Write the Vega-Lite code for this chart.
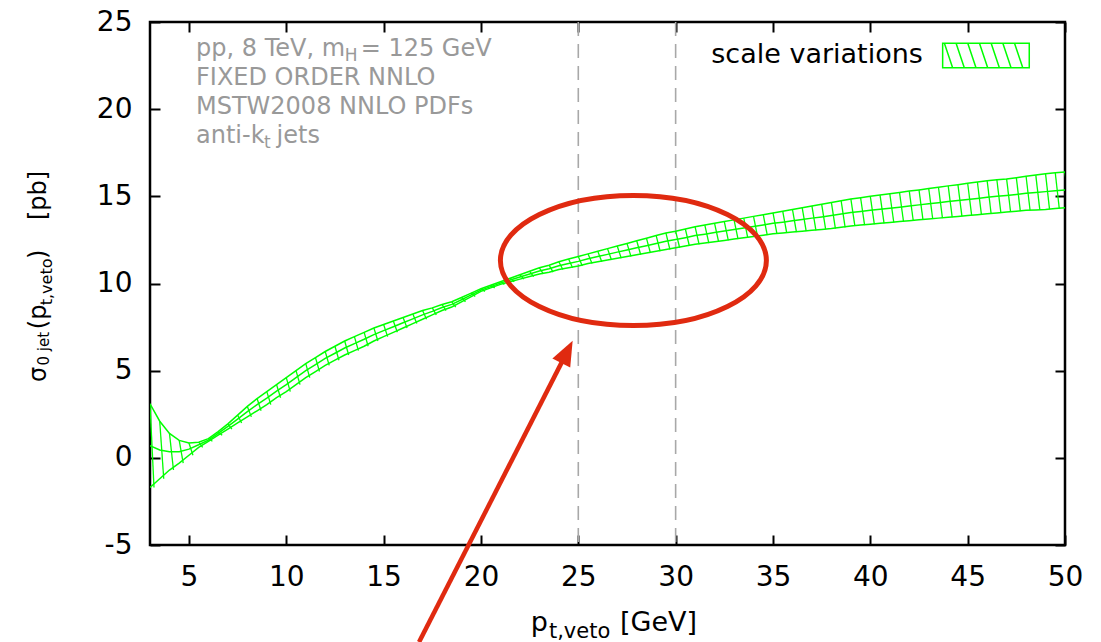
{
  "$schema": "https://vega.github.io/schema/vega-lite/v6.json",
  "width": 915,
  "height": 523,
  "autosize": {"type": "none"},
  "padding": {"left": 150, "top": 22, "right": 36, "bottom": 97},
  "background": "white",
  "config": {
    "view": {"stroke": "black", "strokeWidth": 2.5},
    "text": {"font": "DejaVu Sans"}
  },
  "data": {"values": [{"one": 1}]},
  "datasets": {
    "vlines": [{"x": 25}, {"x": 30}],
    "band": [
      {"x": 3.0, "hi": 3.1, "mid": 0.7, "lo": -1.7},
      {"x": 3.5, "hi": 2.1, "mid": 0.45, "lo": -1.2},
      {"x": 4.0, "hi": 1.4, "mid": 0.35, "lo": -0.7},
      {"x": 4.5, "hi": 1.0, "mid": 0.35, "lo": -0.3},
      {"x": 5.0, "hi": 0.85, "mid": 0.5, "lo": 0.15},
      {"x": 5.5, "hi": 0.9, "mid": 0.75, "lo": 0.6},
      {"x": 6.0, "hi": 1.1, "mid": 1.02, "lo": 0.95},
      {"x": 6.5, "hi": 1.5, "mid": 1.4, "lo": 1.3},
      {"x": 7.0, "hi": 1.95, "mid": 1.8, "lo": 1.65},
      {"x": 7.5, "hi": 2.45, "mid": 2.22, "lo": 2.0},
      {"x": 8.0, "hi": 2.95, "mid": 2.65, "lo": 2.35},
      {"x": 8.5, "hi": 3.4, "mid": 3.05, "lo": 2.7},
      {"x": 9.0, "hi": 3.8, "mid": 3.42, "lo": 3.05},
      {"x": 9.5, "hi": 4.2, "mid": 3.82, "lo": 3.45},
      {"x": 10.0, "hi": 4.6, "mid": 4.2, "lo": 3.8},
      {"x": 10.5, "hi": 5.0, "mid": 4.6, "lo": 4.2},
      {"x": 11.0, "hi": 5.4, "mid": 5.0, "lo": 4.6},
      {"x": 11.5, "hi": 5.75, "mid": 5.35, "lo": 4.95},
      {"x": 12.0, "hi": 6.1, "mid": 5.7, "lo": 5.3},
      {"x": 12.5, "hi": 6.4, "mid": 6.0, "lo": 5.6},
      {"x": 13.0, "hi": 6.7, "mid": 6.3, "lo": 5.9},
      {"x": 13.5, "hi": 6.95, "mid": 6.55, "lo": 6.15},
      {"x": 14.0, "hi": 7.2, "mid": 6.8, "lo": 6.4},
      {"x": 14.5, "hi": 7.45, "mid": 7.07, "lo": 6.7},
      {"x": 15.0, "hi": 7.65, "mid": 7.3, "lo": 6.95},
      {"x": 15.5, "hi": 7.85, "mid": 7.52, "lo": 7.2},
      {"x": 16.0, "hi": 8.05, "mid": 7.75, "lo": 7.45},
      {"x": 16.5, "hi": 8.25, "mid": 7.97, "lo": 7.7},
      {"x": 17.0, "hi": 8.45, "mid": 8.2, "lo": 7.95},
      {"x": 17.5, "hi": 8.6, "mid": 8.4, "lo": 8.2},
      {"x": 18.0, "hi": 8.8, "mid": 8.62, "lo": 8.45},
      {"x": 18.5, "hi": 8.95, "mid": 8.8, "lo": 8.65},
      {"x": 19.0, "hi": 9.2, "mid": 9.07, "lo": 8.95},
      {"x": 19.5, "hi": 9.45, "mid": 9.35, "lo": 9.25},
      {"x": 20.0, "hi": 9.7, "mid": 9.62, "lo": 9.55},
      {"x": 20.5, "hi": 9.9, "mid": 9.82, "lo": 9.75},
      {"x": 21.0, "hi": 10.1, "mid": 10.02, "lo": 9.95},
      {"x": 21.5, "hi": 10.3, "mid": 10.2, "lo": 10.1},
      {"x": 22.0, "hi": 10.5, "mid": 10.37, "lo": 10.25},
      {"x": 22.5, "hi": 10.7, "mid": 10.55, "lo": 10.4},
      {"x": 23.0, "hi": 10.9, "mid": 10.72, "lo": 10.55},
      {"x": 23.5, "hi": 11.05, "mid": 10.85, "lo": 10.65},
      {"x": 24.0, "hi": 11.25, "mid": 11.02, "lo": 10.8},
      {"x": 24.5, "hi": 11.4, "mid": 11.15, "lo": 10.9},
      {"x": 25.0, "hi": 11.55, "mid": 11.27, "lo": 11.0},
      {"x": 25.5, "hi": 11.7, "mid": 11.42, "lo": 11.15},
      {"x": 26.0, "hi": 11.85, "mid": 11.55, "lo": 11.25},
      {"x": 26.5, "hi": 12.0, "mid": 11.67, "lo": 11.35},
      {"x": 27.0, "hi": 12.15, "mid": 11.8, "lo": 11.45},
      {"x": 27.5, "hi": 12.3, "mid": 11.92, "lo": 11.55},
      {"x": 28.0, "hi": 12.45, "mid": 12.05, "lo": 11.65},
      {"x": 28.5, "hi": 12.6, "mid": 12.17, "lo": 11.75},
      {"x": 29.0, "hi": 12.75, "mid": 12.3, "lo": 11.85},
      {"x": 29.5, "hi": 12.9, "mid": 12.42, "lo": 11.95},
      {"x": 30.0, "hi": 13.0, "mid": 12.52, "lo": 12.05},
      {"x": 30.5, "hi": 13.12, "mid": 12.63, "lo": 12.15},
      {"x": 31.0, "hi": 13.25, "mid": 12.75, "lo": 12.25},
      {"x": 31.5, "hi": 13.35, "mid": 12.83, "lo": 12.32},
      {"x": 32.0, "hi": 13.45, "mid": 12.92, "lo": 12.4},
      {"x": 32.5, "hi": 13.55, "mid": 13.01, "lo": 12.47},
      {"x": 33.0, "hi": 13.65, "mid": 13.1, "lo": 12.55},
      {"x": 33.5, "hi": 13.75, "mid": 13.18, "lo": 12.62},
      {"x": 34.0, "hi": 13.85, "mid": 13.27, "lo": 12.7},
      {"x": 34.5, "hi": 13.95, "mid": 13.36, "lo": 12.77},
      {"x": 35.0, "hi": 14.05, "mid": 13.45, "lo": 12.85},
      {"x": 35.5, "hi": 14.15, "mid": 13.52, "lo": 12.9},
      {"x": 36.0, "hi": 14.25, "mid": 13.6, "lo": 12.95},
      {"x": 36.5, "hi": 14.35, "mid": 13.67, "lo": 13.0},
      {"x": 37.0, "hi": 14.45, "mid": 13.75, "lo": 13.05},
      {"x": 37.5, "hi": 14.55, "mid": 13.82, "lo": 13.1},
      {"x": 38.0, "hi": 14.65, "mid": 13.9, "lo": 13.15},
      {"x": 38.5, "hi": 14.75, "mid": 13.98, "lo": 13.22},
      {"x": 39.0, "hi": 14.85, "mid": 14.07, "lo": 13.3},
      {"x": 39.5, "hi": 14.92, "mid": 14.13, "lo": 13.35},
      {"x": 40.0, "hi": 15.0, "mid": 14.2, "lo": 13.4},
      {"x": 40.5, "hi": 15.07, "mid": 14.26, "lo": 13.45},
      {"x": 41.0, "hi": 15.15, "mid": 14.32, "lo": 13.5},
      {"x": 41.5, "hi": 15.22, "mid": 14.38, "lo": 13.55},
      {"x": 42.0, "hi": 15.3, "mid": 14.45, "lo": 13.6},
      {"x": 42.5, "hi": 15.37, "mid": 14.51, "lo": 13.65},
      {"x": 43.0, "hi": 15.45, "mid": 14.57, "lo": 13.7},
      {"x": 43.5, "hi": 15.52, "mid": 14.63, "lo": 13.75},
      {"x": 44.0, "hi": 15.6, "mid": 14.7, "lo": 13.8},
      {"x": 44.5, "hi": 15.67, "mid": 14.76, "lo": 13.85},
      {"x": 45.0, "hi": 15.75, "mid": 14.82, "lo": 13.9},
      {"x": 45.5, "hi": 15.82, "mid": 14.88, "lo": 13.95},
      {"x": 46.0, "hi": 15.9, "mid": 14.95, "lo": 14.0},
      {"x": 46.5, "hi": 15.95, "mid": 15.0, "lo": 14.05},
      {"x": 47.0, "hi": 16.0, "mid": 15.05, "lo": 14.1},
      {"x": 47.5, "hi": 16.07, "mid": 15.11, "lo": 14.15},
      {"x": 48.0, "hi": 16.15, "mid": 15.17, "lo": 14.2},
      {"x": 48.5, "hi": 16.22, "mid": 15.22, "lo": 14.22},
      {"x": 49.0, "hi": 16.3, "mid": 15.27, "lo": 14.25},
      {"x": 49.5, "hi": 16.35, "mid": 15.32, "lo": 14.3},
      {"x": 50.0, "hi": 16.4, "mid": 15.37, "lo": 14.35}
    ]
  },
  "layer": [
    {
      "layer": [
        {
          "data": {"name": "vlines"},
          "mark": {"type": "rule", "color": "#a8a8a8", "strokeWidth": 1.6, "strokeDash": [14, 8]},
          "encoding": {
            "x": {"field": "x", "type": "quantitative", "scale": {"domain": [3, 50], "nice": false, "zero": false},
              "axis": {"orient": "bottom", "values": [5, 10, 15, 20, 25, 30, 35, 40, 45, 50], "title": null, "grid": false, "domain": false, "tickSize": -10, "tickWidth": 2, "tickColor": "black", "labelFont": "DejaVu Sans", "labelFontSize": 28, "labelColor": "black", "labelPadding": 28, "labelFlush": false, "labelOverlap": false}}
          }
        },
        {
          "data": {"name": "band"},
          "mark": {"type": "rule", "color": "#00ff00", "strokeWidth": 1.3, "x2Offset": 4, "clip": true},
          "encoding": {
            "x": {"field": "x", "type": "quantitative", "scale": {"domain": [3, 50], "nice": false, "zero": false}},
            "x2": {"field": "x"},
            "y": {"field": "hi", "type": "quantitative", "scale": {"domain": [-5, 25], "nice": false, "zero": false},
              "axis": {"orient": "left", "values": [-5, 0, 5, 10, 15, 20, 25], "title": null, "grid": false, "domain": false, "tickSize": -10, "tickWidth": 2, "tickColor": "black", "labelFont": "DejaVu Sans", "labelFontSize": 28, "labelColor": "black", "labelPadding": 28, "labelExpr": "'' + datum.value", "labelOverlap": false}},
            "y2": {"field": "lo"}
          }
        },
        {
          "data": {"name": "band"},
          "mark": {"type": "line", "color": "#00ff00", "strokeWidth": 1.5, "clip": true},
          "encoding": {
            "x": {"field": "x", "type": "quantitative", "scale": {"domain": [3, 50], "nice": false, "zero": false}},
            "y": {"field": "hi", "type": "quantitative", "scale": {"domain": [-5, 25], "nice": false, "zero": false}}
          }
        },
        {
          "data": {"name": "band"},
          "mark": {"type": "line", "color": "#00ff00", "strokeWidth": 1.5, "clip": true},
          "encoding": {
            "x": {"field": "x", "type": "quantitative", "scale": {"domain": [3, 50], "nice": false, "zero": false}},
            "y": {"field": "mid", "type": "quantitative", "scale": {"domain": [-5, 25], "nice": false, "zero": false}}
          }
        },
        {
          "data": {"name": "band"},
          "mark": {"type": "line", "color": "#00ff00", "strokeWidth": 1.5, "clip": true},
          "encoding": {
            "x": {"field": "x", "type": "quantitative", "scale": {"domain": [3, 50], "nice": false, "zero": false}},
            "y": {"field": "lo", "type": "quantitative", "scale": {"domain": [-5, 25], "nice": false, "zero": false}}
          }
        },
        {
          "mark": {"type": "point", "shape": "M-1,0A1,0.489 0 1,1 1,0A1,0.489 0 1,1 -1,0Z", "size": 70756, "filled": false, "stroke": "#e02a10", "strokeWidth": 5, "opacity": 1},
          "encoding": {
            "x": {"datum": 27.83, "type": "quantitative", "scale": {"domain": [3, 50], "nice": false, "zero": false}},
            "y": {"datum": 11.32, "type": "quantitative", "scale": {"domain": [-5, 25], "nice": false, "zero": false}}
          }
        },
        {
          "mark": {"type": "rule", "color": "#e02a10", "strokeWidth": 4.5},
          "encoding": {
            "x": {"datum": 16.82, "type": "quantitative", "scale": {"domain": [3, 50], "nice": false, "zero": false}},
            "y": {"datum": -10.57, "type": "quantitative", "scale": {"domain": [-5, 25], "nice": false, "zero": false}},
            "x2": {"datum": 24.2},
            "y2": {"datum": 5.59}
          }
        },
        {
          "mark": {"type": "point", "shape": "M0,0L0.8,2L-0.8,2Z", "size": 625, "filled": true, "fill": "#e02a10", "strokeWidth": 0, "opacity": 1, "angle": 27},
          "encoding": {
            "x": {"datum": 24.71, "type": "quantitative", "scale": {"domain": [3, 50], "nice": false, "zero": false}},
            "y": {"datum": 6.72, "type": "quantitative", "scale": {"domain": [-5, 25], "nice": false, "zero": false}}
          }
        },
        {
          "mark": {"type": "point", "shape": "M-1,-0.282H1V0.282H-1Z M-0.96,-0.282L-0.77,0.282 M-0.69,-0.282L-0.5,0.282 M-0.42,-0.282L-0.23,0.282 M-0.15,-0.282L0.04,0.282 M0.12,-0.282L0.31,0.282 M0.39,-0.282L0.58,0.282 M0.66,-0.282L0.85,0.282", "size": 7500, "filled": false, "stroke": "#00ff00", "strokeWidth": 1.5, "opacity": 1},
          "encoding": {
            "x": {"datum": 45.94, "type": "quantitative", "scale": {"domain": [3, 50], "nice": false, "zero": false}},
            "y": {"datum": 23.08, "type": "quantitative", "scale": {"domain": [-5, 25], "nice": false, "zero": false}}
          }
        },
        {
          "mark": {"type": "text", "text": "scale variations", "align": "right", "baseline": "alphabetic", "fontSize": 27, "color": "black"},
          "encoding": {
            "x": {"datum": 42.7, "type": "quantitative", "scale": {"domain": [3, 50], "nice": false, "zero": false}},
            "y": {"datum": 22.63, "type": "quantitative", "scale": {"domain": [-5, 25], "nice": false, "zero": false}}
          }
        },
        {
          "mark": {"type": "text", "text": "pp, 8 TeV, m", "align": "left", "baseline": "alphabetic", "fontSize": 24, "color": "#999999"},
          "encoding": {
            "x": {"datum": 5.363, "type": "quantitative", "scale": {"domain": [3, 50], "nice": false, "zero": false}},
            "y": {"datum": 23.05, "type": "quantitative", "scale": {"domain": [-5, 25], "nice": false, "zero": false}}
          }
        },
        {
          "mark": {"type": "text", "text": "H", "align": "left", "baseline": "alphabetic", "fontSize": 17, "color": "#999999"},
          "encoding": {
            "x": {"datum": 13.0, "type": "quantitative", "scale": {"domain": [3, 50], "nice": false, "zero": false}},
            "y": {"datum": 22.76, "type": "quantitative", "scale": {"domain": [-5, 25], "nice": false, "zero": false}}
          }
        },
        {
          "mark": {"type": "text", "text": "= 125 GeV", "align": "left", "baseline": "alphabetic", "fontSize": 24, "color": "#999999"},
          "encoding": {
            "x": {"datum": 13.82, "type": "quantitative", "scale": {"domain": [3, 50], "nice": false, "zero": false}},
            "y": {"datum": 23.05, "type": "quantitative", "scale": {"domain": [-5, 25], "nice": false, "zero": false}}
          }
        },
        {
          "mark": {"type": "text", "text": "FIXED ORDER NNLO", "align": "left", "baseline": "alphabetic", "fontSize": 24, "color": "#999999"},
          "encoding": {
            "x": {"datum": 5.363, "type": "quantitative", "scale": {"domain": [3, 50], "nice": false, "zero": false}},
            "y": {"datum": 21.39, "type": "quantitative", "scale": {"domain": [-5, 25], "nice": false, "zero": false}}
          }
        },
        {
          "mark": {"type": "text", "text": "MSTW2008 NNLO PDFs", "align": "left", "baseline": "alphabetic", "fontSize": 24, "color": "#999999"},
          "encoding": {
            "x": {"datum": 5.363, "type": "quantitative", "scale": {"domain": [3, 50], "nice": false, "zero": false}},
            "y": {"datum": 19.72, "type": "quantitative", "scale": {"domain": [-5, 25], "nice": false, "zero": false}}
          }
        },
        {
          "mark": {"type": "text", "text": "anti-k", "align": "left", "baseline": "alphabetic", "fontSize": 24, "color": "#999999"},
          "encoding": {
            "x": {"datum": 5.363, "type": "quantitative", "scale": {"domain": [3, 50], "nice": false, "zero": false}},
            "y": {"datum": 18.06, "type": "quantitative", "scale": {"domain": [-5, 25], "nice": false, "zero": false}}
          }
        },
        {
          "mark": {"type": "text", "text": "t", "align": "left", "baseline": "alphabetic", "fontSize": 17, "color": "#999999"},
          "encoding": {
            "x": {"datum": 8.85, "type": "quantitative", "scale": {"domain": [3, 50], "nice": false, "zero": false}},
            "y": {"datum": 17.77, "type": "quantitative", "scale": {"domain": [-5, 25], "nice": false, "zero": false}}
          }
        },
        {
          "mark": {"type": "text", "text": "jets", "align": "left", "baseline": "alphabetic", "fontSize": 24, "color": "#999999"},
          "encoding": {
            "x": {"datum": 9.5, "type": "quantitative", "scale": {"domain": [3, 50], "nice": false, "zero": false}},
            "y": {"datum": 18.06, "type": "quantitative", "scale": {"domain": [-5, 25], "nice": false, "zero": false}}
          }
        },
        {
          "mark": {"type": "text", "text": "p", "align": "right", "baseline": "alphabetic", "fontSize": 27, "color": "black"},
          "encoding": {
            "x": {"datum": 23.44, "type": "quantitative", "scale": {"domain": [3, 50], "nice": false, "zero": false}},
            "y": {"datum": -9.94, "type": "quantitative", "scale": {"domain": [-5, 25], "nice": false, "zero": false}}
          }
        },
        {
          "mark": {"type": "text", "text": "t,veto", "align": "left", "baseline": "alphabetic", "fontSize": 21, "color": "black"},
          "encoding": {
            "x": {"datum": 23.49, "type": "quantitative", "scale": {"domain": [3, 50], "nice": false, "zero": false}},
            "y": {"datum": -10.34, "type": "quantitative", "scale": {"domain": [-5, 25], "nice": false, "zero": false}}
          }
        },
        {
          "mark": {"type": "text", "text": "[GeV]", "align": "left", "baseline": "alphabetic", "fontSize": 27, "color": "black"},
          "encoding": {
            "x": {"datum": 27.14, "type": "quantitative", "scale": {"domain": [3, 50], "nice": false, "zero": false}},
            "y": {"datum": -9.94, "type": "quantitative", "scale": {"domain": [-5, 25], "nice": false, "zero": false}}
          }
        },
        {
          "mark": {"type": "text", "text": "σ", "angle": 270, "align": "left", "baseline": "alphabetic", "fontSize": 24, "color": "black"},
          "encoding": {
            "x": {"datum": -2.32, "type": "quantitative", "scale": {"domain": [3, 50], "nice": false, "zero": false}},
            "y": {"datum": 4.35, "type": "quantitative", "scale": {"domain": [-5, 25], "nice": false, "zero": false}}
          }
        },
        {
          "mark": {"type": "text", "text": "0 jet", "angle": 270, "align": "left", "baseline": "alphabetic", "fontSize": 15, "color": "black"},
          "encoding": {
            "x": {"datum": -2.19, "type": "quantitative", "scale": {"domain": [3, 50], "nice": false, "zero": false}},
            "y": {"datum": 5.3, "type": "quantitative", "scale": {"domain": [-5, 25], "nice": false, "zero": false}}
          }
        },
        {
          "mark": {"type": "text", "text": "(p", "angle": 270, "align": "left", "baseline": "alphabetic", "fontSize": 24, "color": "black"},
          "encoding": {
            "x": {"datum": -2.32, "type": "quantitative", "scale": {"domain": [3, 50], "nice": false, "zero": false}},
            "y": {"datum": 7.38, "type": "quantitative", "scale": {"domain": [-5, 25], "nice": false, "zero": false}}
          }
        },
        {
          "mark": {"type": "text", "text": "t,veto", "angle": 270, "align": "left", "baseline": "alphabetic", "fontSize": 16, "color": "black"},
          "encoding": {
            "x": {"datum": -2.03, "type": "quantitative", "scale": {"domain": [3, 50], "nice": false, "zero": false}},
            "y": {"datum": 8.75, "type": "quantitative", "scale": {"domain": [-5, 25], "nice": false, "zero": false}}
          }
        },
        {
          "mark": {"type": "text", "text": ")", "angle": 270, "align": "left", "baseline": "alphabetic", "fontSize": 24, "color": "black"},
          "encoding": {
            "x": {"datum": -2.32, "type": "quantitative", "scale": {"domain": [3, 50], "nice": false, "zero": false}},
            "y": {"datum": 11.4, "type": "quantitative", "scale": {"domain": [-5, 25], "nice": false, "zero": false}}
          }
        },
        {
          "mark": {"type": "text", "text": "[pb]", "angle": 270, "align": "left", "baseline": "alphabetic", "fontSize": 24, "color": "black"},
          "encoding": {
            "x": {"datum": -2.32, "type": "quantitative", "scale": {"domain": [3, 50], "nice": false, "zero": false}},
            "y": {"datum": 13.64, "type": "quantitative", "scale": {"domain": [-5, 25], "nice": false, "zero": false}}
          }
        }
      ]
    },
    {
      "data": {"name": "band"},
      "mark": {"type": "point", "opacity": 0},
      "encoding": {
        "x": {"field": "x", "type": "quantitative", "scale": {"domain": [3, 50], "nice": false, "zero": false},
          "axis": {"orient": "top", "values": [5, 10, 15, 20, 25, 30, 35, 40, 45, 50], "labels": false, "title": null, "grid": false, "domain": false, "tickSize": -10, "tickWidth": 2, "tickColor": "black"}},
        "y": {"field": "hi", "type": "quantitative", "scale": {"domain": [-5, 25], "nice": false, "zero": false},
          "axis": {"orient": "right", "values": [-5, 0, 5, 10, 15, 20, 25], "labels": false, "title": null, "grid": false, "domain": false, "tickSize": -10, "tickWidth": 2, "tickColor": "black"}}
      }
    }
  ],
  "resolve": {"axis": {"x": "independent", "y": "independent"}}
}
